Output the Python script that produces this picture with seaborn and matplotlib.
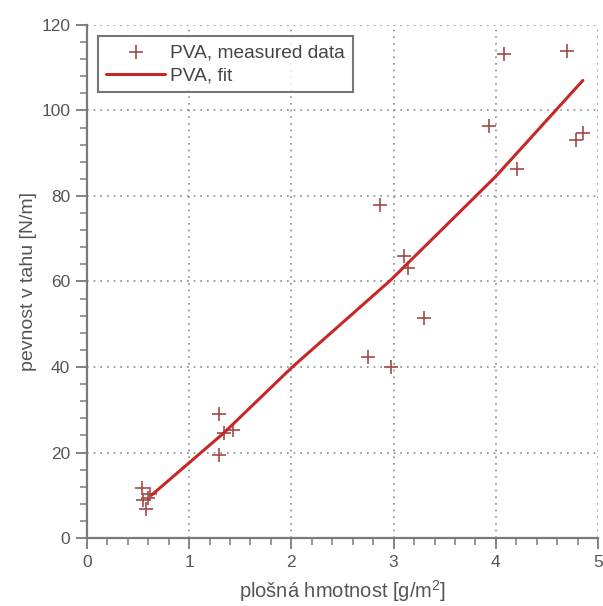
import matplotlib
matplotlib.use("Agg")
import matplotlib.pyplot as plt
import numpy as np
import pandas as pd
import seaborn as sns
from matplotlib.ticker import MultipleLocator

mass = [0.54, 0.55, 0.58, 0.62, 0.60, 1.29, 1.29, 1.34, 1.43, 2.75, 2.97,
        3.30, 2.87, 3.10, 3.14, 3.93, 4.08, 4.70, 4.21, 4.78, 4.85]
strength = [11.7, 8.8, 6.8, 10.2, 9.4, 29.1, 19.4, 24.5, 25.2, 42.4, 40.0,
            51.4, 77.8, 66.0, 63.2, 96.3, 113.2, 114.0, 86.4, 93.0, 94.6]

# fitted curve
fit_mass = [0.63, 1.34, 2.00, 2.97, 4.00, 4.85]
fit_strength = [10.0, 24.6, 39.8, 60.3, 84.6, 107.0]

sns.set_theme(style="white")
plt.rcParams["font.family"] = ["Liberation Sans", "DejaVu Sans"]
plt.rcParams["mathtext.default"] = "regular"

text_col = "#555555"
axis_col = "#7a7a7a"

fig = plt.figure(figsize=(6.03, 6.06), dpi=100)
ax = fig.add_axes([0.144, 0.112, 0.848, 0.847])

meas = pd.DataFrame({"x": mass, "y": strength})
fit = pd.DataFrame({"x": fit_mass, "y": fit_strength})

sns.scatterplot(data=meas, x="x", y="y", marker="+", s=90, color="#a44a4a",
                linewidth=1.2, label="PVA, measured data", ax=ax, zorder=3)
sns.lineplot(data=fit, x="x", y="y", color="#c62828", linewidth=2.2,
             sort=False, label="PVA, fit", ax=ax, zorder=4)

ax.set_xlim(0, 5)
ax.set_ylim(0, 120)
ax.xaxis.set_major_locator(MultipleLocator(1))
ax.xaxis.set_minor_locator(MultipleLocator(0.2))
ax.yaxis.set_major_locator(MultipleLocator(20))
ax.yaxis.set_minor_locator(MultipleLocator(4))

ax.grid(True, which="major", linestyle=(0, (1, 3)), color="#8a8a8a", linewidth=1.2)
for side in ["top", "right"]:
    ax.spines[side].set_visible(False)
for side in ["left", "bottom"]:
    ax.spines[side].set_color(axis_col)
    ax.spines[side].set_linewidth(1.6)

ax.tick_params(which="major", direction="out", length=8, width=1.3,
               color=axis_col, labelcolor=text_col, labelsize=12.5,
               bottom=True, left=True, pad=4)
ax.tick_params(which="minor", direction="out", length=5, width=1.1,
               color=axis_col, bottom=True, left=True)

ax.set_xlabel("plošná hmotnost [g/m$^{2}$]", color=text_col, fontsize=14.5,
              labelpad=6)
ax.set_ylabel("pevnost v tahu [N/m]", color=text_col, fontsize=14,
              labelpad=3)

leg = ax.legend(loc="upper left", bbox_to_anchor=(0.015, 0.985), fontsize=13.8,
                frameon=True, fancybox=False, edgecolor="#555555",
                borderaxespad=0.2, handlelength=3.1, handletextpad=0.25,
                labelspacing=0.3, borderpad=0.4)
leg.get_frame().set_linewidth(1.5)
for t in leg.get_texts():
    t.set_color("#444444")

fig.savefig("out.png", dpi=100)
